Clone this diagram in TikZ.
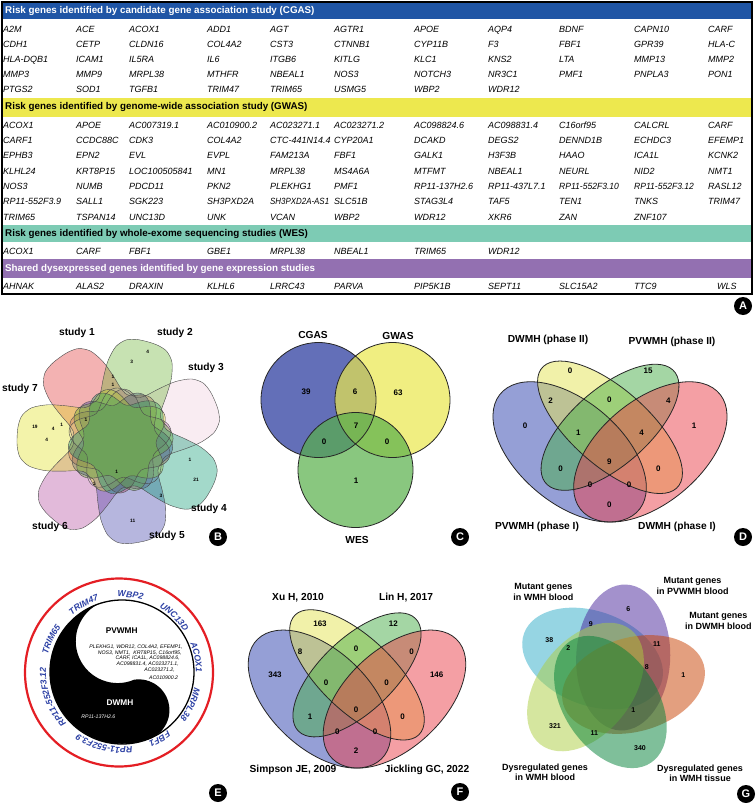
\documentclass[tikz,border=0pt]{standalone}
\usepackage{fontspec}
\usepackage{graphicx}
\setmainfont{Liberation Sans}
\usetikzlibrary{decorations.text}
\definecolor{hblue}{RGB}{31,85,165}
\definecolor{hyellow}{RGB}{237,232,78}
\definecolor{hteal}{RGB}{125,203,180}
\definecolor{hpurple}{RGB}{147,112,177}
\definecolor{cB}{RGB}{34,51,155}
\definecolor{cY}{RGB}{234,231,76}
\definecolor{cG}{RGB}{88,176,74}
\definecolor{vB}{RGB}{45,65,175}
\definecolor{vY}{RGB}{229,229,85}
\definecolor{vG}{RGB}{75,175,75}
\definecolor{vP}{RGB}{235,65,75}
\definecolor{gC}{RGB}{46,173,200}
\definecolor{gP}{RGB}{73,37,155}
\definecolor{gO}{RGB}{200,64,0}
\definecolor{gY}{RGB}{173,206,64}
\definecolor{gT}{RGB}{0,128,55}
\definecolor{sa}{RGB}{222,44,44}
\definecolor{sb}{RGB}{100,177,44}
\definecolor{sc}{RGB}{239,204,221}
\definecolor{sd}{RGB}{0,150,110}
\definecolor{se}{RGB}{55,55,166}
\definecolor{sf}{RGB}{177,66,155}
\definecolor{sg}{RGB}{222,222,22}
\definecolor{ringred}{RGB}{228,30,36}
\definecolor{ringblue}{RGB}{45,65,165}
\tikzset{
 hdr/.style={anchor=base west, inner sep=0, font=\bfseries\fontsize{9.8}{10}\selectfont},
 gene/.style={anchor=base west, inner sep=0, font=\itshape\fontsize{9}{10}\selectfont},
 plabel/.style={circle, fill=black, text=white, minimum size=18pt, inner sep=0, font=\bfseries\fontsize{11}{11}\selectfont},
 vlab/.style={font=\bfseries\fontsize{10.2}{11}\selectfont, inner sep=0},
 vnum/.style={font=\bfseries\fontsize{8}{9}\selectfont, inner sep=0},
 gnum/.style={font=\bfseries\fontsize{7}{8}\selectfont, inner sep=0},
 bnum/.style={font=\bfseries\fontsize{4.8}{5}\selectfont, inner sep=0},
 glab/.style={font=\bfseries\fontsize{9}{10.3}\selectfont, inner sep=0, align=center},
 vline/.style={draw=black!85, line width=0.8pt},
 eline/.style={anchor=east, inner sep=0, font=\itshape\fontsize{5.2}{6}\selectfont},
}
\newcommand\generow[3]{%
  \foreach \g [count=\i from 0] in {#3}{%
    \pgfmathsetmacro{\gx}{{3,76,129,207,270,334,414,488,559,634,708}[\i]}%
    \node[gene] (#1-\i) at (\gx,#2) {\g};
  }}
\newcommand\quadvenn[4]{%
 \begin{scope}[shift={(#1,#2)}, x=1pt, y=1pt, xscale=#3, yscale=#4]
  \fill[vB, fill opacity=.5, rotate around={135:(-0.15,-0.03)}] (-0.15,-0.03) ellipse [x radius=0.35, y radius=0.2];
  \fill[vY, fill opacity=.5, rotate around={135:(0,0.07)}] (0,0.07) ellipse [x radius=0.35, y radius=0.15];
  \fill[vG, fill opacity=.5, rotate around={45:(0,0.07)}] (0,0.07) ellipse [x radius=0.33, y radius=0.15];
  \fill[vP, fill opacity=.5, rotate around={45:(0.15,-0.03)}] (0.15,-0.03) ellipse [x radius=0.35, y radius=0.2];
  \draw[vline, rotate around={135:(-0.15,-0.03)}] (-0.15,-0.03) ellipse [x radius=0.35, y radius=0.2];
  \draw[vline, rotate around={135:(0,0.07)}] (0,0.07) ellipse [x radius=0.35, y radius=0.15];
  \draw[vline, rotate around={45:(0,0.07)}] (0,0.07) ellipse [x radius=0.33, y radius=0.15];
  \draw[vline, rotate around={45:(0.15,-0.03)}] (0.15,-0.03) ellipse [x radius=0.35, y radius=0.2];
 \end{scope}}
\newcommand\bsetfill[2]{\fill[#2, fill opacity=.36, shift={(120,441)}] plot[smooth cycle, domain=-180:174, samples=60] ({#1+\x}:{44+59/(1+(abs(\x)/28)^4)+8*(1-1/(1+(abs(\x)/28)^4))*cos(5*\x)});}
\newcommand\bsetline[1]{\draw[black!70, line width=.4pt, shift={(120,441)}] plot[smooth cycle, domain=-180:174, samples=60] ({#1+\x}:{44+59/(1+(abs(\x)/28)^4)+8*(1-1/(1+(abs(\x)/28)^4))*cos(5*\x)});}
\newcommand\ringfont{\color{ringblue}\bfseries\itshape\fontsize{8.7}{9}\selectfont}
\newcommand\ringtext[2]{\path[decorate, decoration={text along path, text align=center, text={|\ringfont|#2}}] (121,672) ++(#1+45:75pt) arc[start angle=#1+45, end angle=#1-45, radius=75pt];}
\begin{document}
\begin{tikzpicture}[x=1pt,y=-1pt]
\fill[white] (0,0) rectangle (755,803);
\useasboundingbox (0,0) rectangle (755,803);

% ---------------- Panel A ----------------
\fill[hblue] (3,2.5) rectangle (751,19);
\node[hdr, text=white] (hA) at (5,13.4) {Risk genes identified by candidate gene association study (CGAS)};
\generow{ca}{32.9}{A2M,ACE,ACOX1,ADD1,AGT,AGTR1,APOE,AQP4,BDNF,CAPN10,CARF}
\generow{cb}{47.6}{CDH1,CETP,CLDN16,COL4A2,CST3,CTNNB1,CYP11B,F3,FBF1,GPR39,HLA-C}
\generow{cc}{62.4}{HLA-DQB1,ICAM1,IL5RA,IL6,ITGB6,KITLG,KLC1,KNS2,LTA,MMP13,MMP2}
\generow{cd}{77.4}{MMP3,MMP9,MRPL38,MTHFR,NBEAL1,NOS3,NOTCH3,NR3C1,PMF1,PNPLA3,PON1}
\generow{ce}{92.3}{PTGS2,SOD1,TGFB1,TRIM47,TRIM65,USMG5,WBP2,WDR12}
\fill[hyellow] (3,98) rectangle (751,116.5);
\node[hdr] (hB) at (5,109.6) {Risk genes identified by genome-wide association study (GWAS)};
\generow{ga}{128.4}{ACOX1,APOE,AC007319.1,AC010900.2,AC023271.1,AC023271.2,AC098824.6,AC098831.4,C16orf95,CALCRL,CARF}
\generow{gb}{143.4}{CARF1,CCDC88C,CDK3,COL4A2,CTC-441N14.4,CYP20A1,DCAKD,DEGS2,DENND1B,ECHDC3,EFEMP1}
\generow{gc}{158.4}{EPHB3,EPN2,EVL,EVPL,FAM213A,FBF1,GALK1,H3F3B,HAAO,ICA1L,KCNK2}
\generow{gd}{174}{KLHL24,KRT8P15,LOC100505841,MN1,MRPL38,MS4A6A,MTFMT,NBEAL1,NEURL,NID2,NMT1}
\generow{ge}{189.4}{NOS3,NUMB,PDCD11,PKN2,PLEKHG1,PMF1,RP11-137H2.6,RP11-437L7.1,{\scalebox{0.95}[1]{RP11-552F3.10}},{\scalebox{0.95}[1]{RP11-552F3.12}},RASL12}
\generow{gf}{204.7}{RP11-552F3.9,SALL1,SGK223,SH3PXD2A,{\scalebox{0.88}[1]{SH3PXD2A-AS1}},SLC51B,STAG3L4,TAF5,TEN1,TNKS,TRIM47}
\generow{gg}{220}{TRIM65,TSPAN14,UNC13D,UNK,VCAN,WBP2,WDR12,XKR6,ZAN,ZNF107}
\fill[hteal] (3,224.5) rectangle (751,242);
\node[hdr] (hC) at (5,236.8) {Risk genes identified by whole-exome sequencing studies (WES)};
\generow{wa}{254.4}{ACOX1,CARF,FBF1,GBE1,MRPL38,NBEAL1,TRIM65,WDR12}
\fill[hpurple] (3,259) rectangle (751,277.5);
\node[hdr, text=white] (hD) at (5,271.6) {Shared dysexpressed genes identified by gene expression studies};
\generow{sx}{289}{AHNAK,ALAS2,DRAXIN,KLHL6,LRRC43,PARVA,PIP5K1B,SEPT11,SLC15A2,TTC9}
\node[gene] (sx-10) at (717,289) {WLS};
\draw[line width=2pt] (2,1.5) rectangle (752,293.5);
\node[plabel] (labA) at (743,306) {A};

% ---------------- Panel B ----------------
\bsetfill{-126}{sa}
\bsetfill{131.1}{sf}
\bsetfill{-23.1}{sc}
\bsetfill{79.7}{se}
\bsetfill{182.6}{sg}
\bsetfill{28.3}{sd}
\bsetfill{-74.6}{sb}
\bsetline{-126}
\bsetline{-74.6}
\bsetline{-23.1}
\bsetline{28.3}
\bsetline{79.7}
\bsetline{131.1}
\bsetline{182.6}
\node[vlab] (st1) at (77,333) {study 1};
\node[vlab] (st2) at (175,333) {study 2};
\node[vlab] (st3) at (206,368) {study 3};
\node[vlab] (st4) at (209,509) {study 4};
\node[vlab] (st5) at (167,536) {study 5};
\node[vlab] (st6) at (50,527) {study 6};
\node[vlab] (st7) at (20,389) {study 7};
\node[bnum] (b1) at (147.7,351.7) {4};
\node[bnum] (b2) at (131.7,361.7) {3};
\node[bnum] (b3) at (113,376.7) {1};
\node[bnum] (b4) at (113,385) {1};
\node[bnum] (b5) at (35,426.7) {19};
\node[bnum] (b6) at (53.3,429) {4};
\node[bnum] (b7) at (61.7,425) {1};
\node[bnum] (b8) at (86,420) {1};
\node[bnum] (b9) at (46.7,440) {4};
\node[bnum] (b10) at (190,460) {1};
\node[bnum] (b11) at (196,480) {21};
\node[bnum] (b12) at (116.7,471.7) {1};
\node[bnum] (b13) at (94.3,484.3) {1};
\node[bnum] (b14) at (161,495.7) {3};
\node[bnum] (b15) at (132.7,521) {11};
\node[plabel] (labB) at (218,537) {B};

% ---------------- Panel C ----------------
\fill[cB, fill opacity=.7] (318.5,400) circle[radius=57.5pt];
\fill[cY, fill opacity=.7] (392.5,400) circle[radius=57.5pt];
\fill[cG, fill opacity=.7] (355.5,470) circle[radius=57.5pt];
\draw[vline] (318.5,400) circle[radius=57.5pt] (392.5,400) circle[radius=57.5pt] (355.5,470) circle[radius=57.5pt];
\node[vlab] (cl1) at (313,335) {CGAS};
\node[vlab] (cl2) at (398,336) {GWAS};
\node[vlab] (cl3) at (357,540) {WES};
\node[vnum] (cn1) at (306,392) {39};
\node[vnum] (cn2) at (355,392) {6};
\node[vnum] (cn3) at (398,393) {63};
\node[vnum] (cn4) at (356,426) {7};
\node[vnum] (cn5) at (324,442) {0};
\node[vnum] (cn6) at (387,442) {0};
\node[vnum] (cn7) at (356,481) {1};
\node[plabel] (labC) at (460,537) {C};

% ---------------- Panel D ----------------
\quadvenn{610}{444.5}{269}{246}
\node[vlab] (dl1) at (548,340) {DWMH (phase II)};
\node[vlab] (dl2) at (672,342) {PVWMH (phase II)};
\node[vlab] (dl3) at (537,527) {PVWMH (phase I)};
\node[vlab] (dl4) at (677,527) {DWMH (phase I)};
\node[vnum] (dn1) at (570,370.7) {0};
\node[vnum] (dn2) at (648,370.7) {15};
\node[vnum] (dn3) at (550.7,400.7) {2};
\node[vnum] (dn4) at (609.3,399.3) {0};
\node[vnum] (dn5) at (668.3,400.7) {4};
\node[vnum] (dn6) at (525,426) {0};
\node[vnum] (dn7) at (578.3,432.3) {1};
\node[vnum] (dn8) at (641.7,432.3) {4};
\node[vnum] (dn9) at (694,426) {1};
\node[vnum] (dn10) at (560.7,468.3) {0};
\node[vnum] (dn11) at (609.3,461.7) {9};
\node[vnum] (dn12) at (658.3,468.3) {0};
\node[vnum] (dn13) at (590,485) {0};
\node[vnum] (dn14) at (629,485) {0};
\node[vnum] (dn15) at (609.3,504.3) {0};
\node[plabel] (labD) at (743,537) {D};

% ---------------- Panel E ----------------
\draw[ringred, line width=2.2pt] (119,672.5) circle[radius=94pt];
\fill[white] (122,672) circle[radius=72pt];
\fill[black] (101.05,602.9) arc[start angle=107, end angle=287, radius=72pt]
  arc[start angle=-81.6, end angle=98.4, radius=30.8pt]
  arc[start angle=-66.8, end angle=-246.8, radius=41.9pt] -- cycle;
\draw[line width=1.3pt] (122,672) circle[radius=72pt];
\node[font=\bfseries\fontsize{8.3}{9}\selectfont, inner sep=0] (pv) at (121.7,631) {PVWMH};
\node[eline] (e1) at (182.7,646.7) {PLEKHG1, WDR12, COL4A2, EFEMP1,};
\node[eline] (e2) at (181.7,652.7) {NOS3, NMT1,\ \ KRT8P15, C16orf95,};
\node[eline] (e3) at (180,658.3) {CARF, ICA1L, AC098824.6,};
\node[eline] (e4) at (179,664.3) {AC098831.4, AC023271.1,};
\node[eline] (e5) at (175,670) {AC023271.2,};
\node[eline] (e6) at (178.3,678) {AC010900.2};
\node[font=\bfseries\fontsize{8.3}{9}\selectfont, inner sep=0, text=white] (dw) at (120,702.3) {DWMH};
\node[font=\itshape\fontsize{5.2}{6}\selectfont, inner sep=0, text=white] (e7) at (98.3,716.7) {RP11-137H2.6};
\ringtext{119}{TRIM47}
\ringtext{83}{WBP2}
\ringtext{46}{UNC13D}
\ringtext{11}{ACOX1}
\ringtext{-25}{MRPL38}
\ringtext{-60}{FBF1}
\ringtext{-103}{RP11-552F3.9}
\ringtext{200}{RP11-552F3.12}
\ringtext{155}{TRIM65}
\node[plabel] (labE) at (218,793) {E};

% ---------------- Panel F ----------------
\quadvenn{357}{691.8}{250}{242}
\node[vlab] (fl1) at (298,598) {Xu H, 2010};
\node[vlab] (fl2) at (406,598) {Lin H, 2017};
\node[vlab] (fl3) at (293,770) {Simpson JE, 2009};
\node[vlab] (fl4) at (427,770) {Jickling GC, 2022};
\node[vnum] (fn1) at (320,623.3) {163};
\node[vnum] (fn2) at (393.3,623.3) {12};
\node[vnum] (fn3) at (300,651.7) {8};
\node[vnum] (fn4) at (356,648.3) {0};
\node[vnum] (fn5) at (411.7,651.7) {0};
\node[vnum] (fn6) at (275,675) {343};
\node[vnum] (fn7) at (436.7,675) {146};
\node[vnum] (fn8) at (326,682.3) {0};
\node[vnum] (fn9) at (386.7,682.3) {0};
\node[vnum] (fn10) at (356,710) {0};
\node[vnum] (fn11) at (310,716.7) {1};
\node[vnum] (fn12) at (402.7,716.7) {0};
\node[vnum] (fn13) at (337.3,731.7) {0};
\node[vnum] (fn14) at (375,731.7) {0};
\node[vnum] (fn15) at (356,751) {2};
\node[plabel] (labF) at (460,792) {F};

% ---------------- Panel G ----------------
\fill[gC, fill opacity=.5, rotate around={159.7:(592.6,658.5)}] (592.6,658.5) ellipse [x radius=73pt, y radius=47pt];
\fill[gP, fill opacity=.5, rotate around={87.7:(623.2,657.5)}] (623.2,657.5) ellipse [x radius=73pt, y radius=47pt];
\fill[gO, fill opacity=.5, rotate around={15.7:(633.5,684.5)}] (633.5,684.5) ellipse [x radius=73pt, y radius=47pt];
\fill[gY, fill opacity=.5, rotate around={-128.3:(585.5,687)}] (585.5,687) ellipse [x radius=73pt, y radius=47pt];
\fill[gT, fill opacity=.5, rotate around={-56.3:(610.4,702)}] (610.4,702) ellipse [x radius=73pt, y radius=47pt];
\node[glab] (gl1) at (543.3,592) {Mutant genes\\in WMH blood};
\node[glab] (gl2) at (692.5,586) {Mutant genes\\in PVWMH blood};
\node[glab] (gl3) at (718.3,621) {Mutant genes\\in DWMH blood};
\node[glab] (gl4) at (545,772.5) {Dysregulated genes\\in WMH blood};
\node[glab] (gl5) at (700,773.3) {Dysregulated genes\\in WMH tissue};
\node[gnum] (gn1) at (549.3,640) {38};
\node[gnum] (gn2) at (628.3,609) {6};
\node[gnum] (gn3) at (683.3,675) {1};
\node[gnum] (gn4) at (555,726) {321};
\node[gnum] (gn5) at (640,747.7) {340};
\node[gnum] (gn6) at (590.7,624.3) {9};
\node[gnum] (gn7) at (568.3,648.3) {2};
\node[gnum] (gn8) at (656.7,644.3) {11};
\node[gnum] (gn9) at (646.7,666.7) {8};
\node[gnum] (gn10) at (633.3,710) {1};
\node[gnum] (gn11) at (594.3,733.3) {11};
\node[plabel] (labG) at (746,794) {G};
\end{tikzpicture}
\end{document}
